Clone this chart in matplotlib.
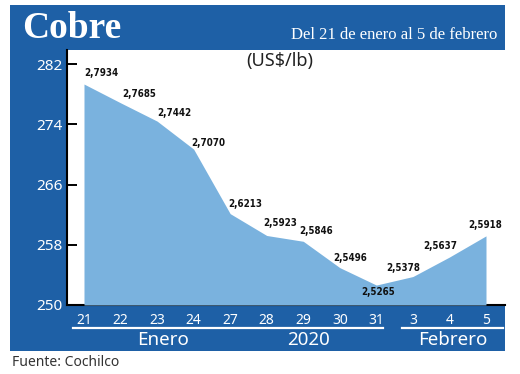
import matplotlib
matplotlib.use("Agg")
import matplotlib.pyplot as plt
from matplotlib.patches import Rectangle
import matplotlib.transforms as mtransforms
from matplotlib import font_manager as fm

# ---- data ----
days = ["21", "22", "23", "24", "27", "28", "29", "30", "31", "3", "4", "5"]
prices = [2.7934, 2.7685, 2.7442, 2.7070, 2.6213, 2.5923, 2.5846,
          2.5496, 2.5265, 2.5378, 2.5637, 2.5918]
price_labels = ["2,7934", "2,7685", "2,7442", "2,7070", "2,6213", "2,5923",
                "2,5846", "2,5496", "2,5265", "2,5378", "2,5637", "2,5918"]
yticks = [250, 258, 266, 274, 282]
groups = ["Enero", "2020", "Febrero"]

# label offsets in pixels (dx, dy)
label_offsets = [(17, 11), (19, 9), (17, 8), (15, 6), (15, 10), (13, 12),
                 (13, 10), (10, 10), (2, -7), (-10, 9), (-9, 11), (-1, 11)]
group_x = [2.15, 6.15, 10.1]

BLUE = "#1e60a6"
FILL = "#7ab2de"

# pick a condensed font for the value labels if one is installed
cond_names = [f.name for f in fm.fontManager.ttflist
              if "condensed" in f.fname.lower() or "narrow" in f.name.lower()]
label_fp = fm.FontProperties(family="DejaVu Sans", weight="bold",
                             stretch="condensed", size=7)
label_size = 7
for f in fm.fontManager.ttflist:
    if "DejaVuSansCondensed-Bold" in f.fname:
        label_fp = fm.FontProperties(fname=f.fname, size=7)
        break
else:
    label_fp = fm.FontProperties(family="Liberation Sans", weight="bold", size=6.5)

W, H = 520, 374
fig = plt.figure(figsize=(W / 100, H / 100), dpi=100)
fig.patch.set_facecolor("white")

# background frame
bg = fig.add_axes([0, 0, 1, 1], zorder=-1)
bg.set_xlim(0, W)
bg.set_ylim(H, 0)
bg.axis("off")
bg.add_patch(Rectangle((10, 5), 495, 346, color=BLUE, lw=0))
bg.text(22, 28, "Cobre", color="white", fontsize=27, fontweight="bold",
        family="Liberation Serif", va="center", ha="left")
bg.text(497, 35, "Del 21 de enero al 5 de febrero", color="white",
        fontsize=12, family="Liberation Serif", va="center", ha="right")
bg.text(12, 362, "Fuente: Cochilco", color="#333333", fontsize=10,
        family="Noto Sans", va="center", ha="left")

# main axes
left, right, top, bottom = 67, 505, 50, 305
ax = fig.add_axes([left / W, (H - bottom) / H, (right - left) / W, (bottom - top) / H])
ax.set_facecolor("white")

x = list(range(len(days)))
vals = [p * 100 for p in prices]
ax.fill_between(x, 250, vals, color=FILL, lw=0, zorder=3)
ax.set_xlim(-0.465, 11.52)
ax.set_ylim(250, 283.86)

for xi, v, lab, (dx, dy) in zip(x, vals, price_labels, label_offsets):
    ax.annotate(lab, (xi, v), xytext=(dx, dy), textcoords="offset pixels",
                ha="center", va="center", fontproperties=label_fp,
                color="#111111", zorder=5)

ax.set_yticks(yticks)
ax.set_yticklabels([str(t) for t in yticks])
ax.tick_params(axis="y", direction="in", length=7.2, width=1.4, color="black",
               labelcolor="white", labelsize=11, pad=3)
for lab in ax.get_yticklabels():
    lab.set_family("Noto Sans")

ax.set_xticks(x)
ax.set_xticklabels(days)
ax.tick_params(axis="x", length=0, labelcolor="white", labelsize=10, pad=5.5)
for lab in ax.get_xticklabels():
    lab.set_family("Noto Sans")

for s in ["top", "right"]:
    ax.spines[s].set_visible(False)
ax.spines["left"].set_linewidth(1.5)
ax.spines["left"].set_zorder(4)
ax.spines["bottom"].set_linewidth(1.5)
ax.spines["bottom"].set_zorder(2)

trans = mtransforms.blended_transform_factory(ax.transData, ax.transAxes)
ax.plot([-0.3, 8.18], [-0.09, -0.09], color="white", lw=1.6, transform=trans, clip_on=False)
ax.plot([8.7, 11.46], [-0.09, -0.09], color="white", lw=1.6, transform=trans, clip_on=False)
for g, gx in zip(groups, group_x):
    ax.text(gx, -0.137, g, transform=trans, ha="center", va="center",
            color="white", fontsize=13.5, family="Noto Sans")

ax.text(0.485, 0.955, "(US$/lb)", transform=ax.transAxes, ha="center", va="center",
        fontsize=13, family="Noto Sans", color="#222222")

fig.savefig("out.png", dpi=100)
